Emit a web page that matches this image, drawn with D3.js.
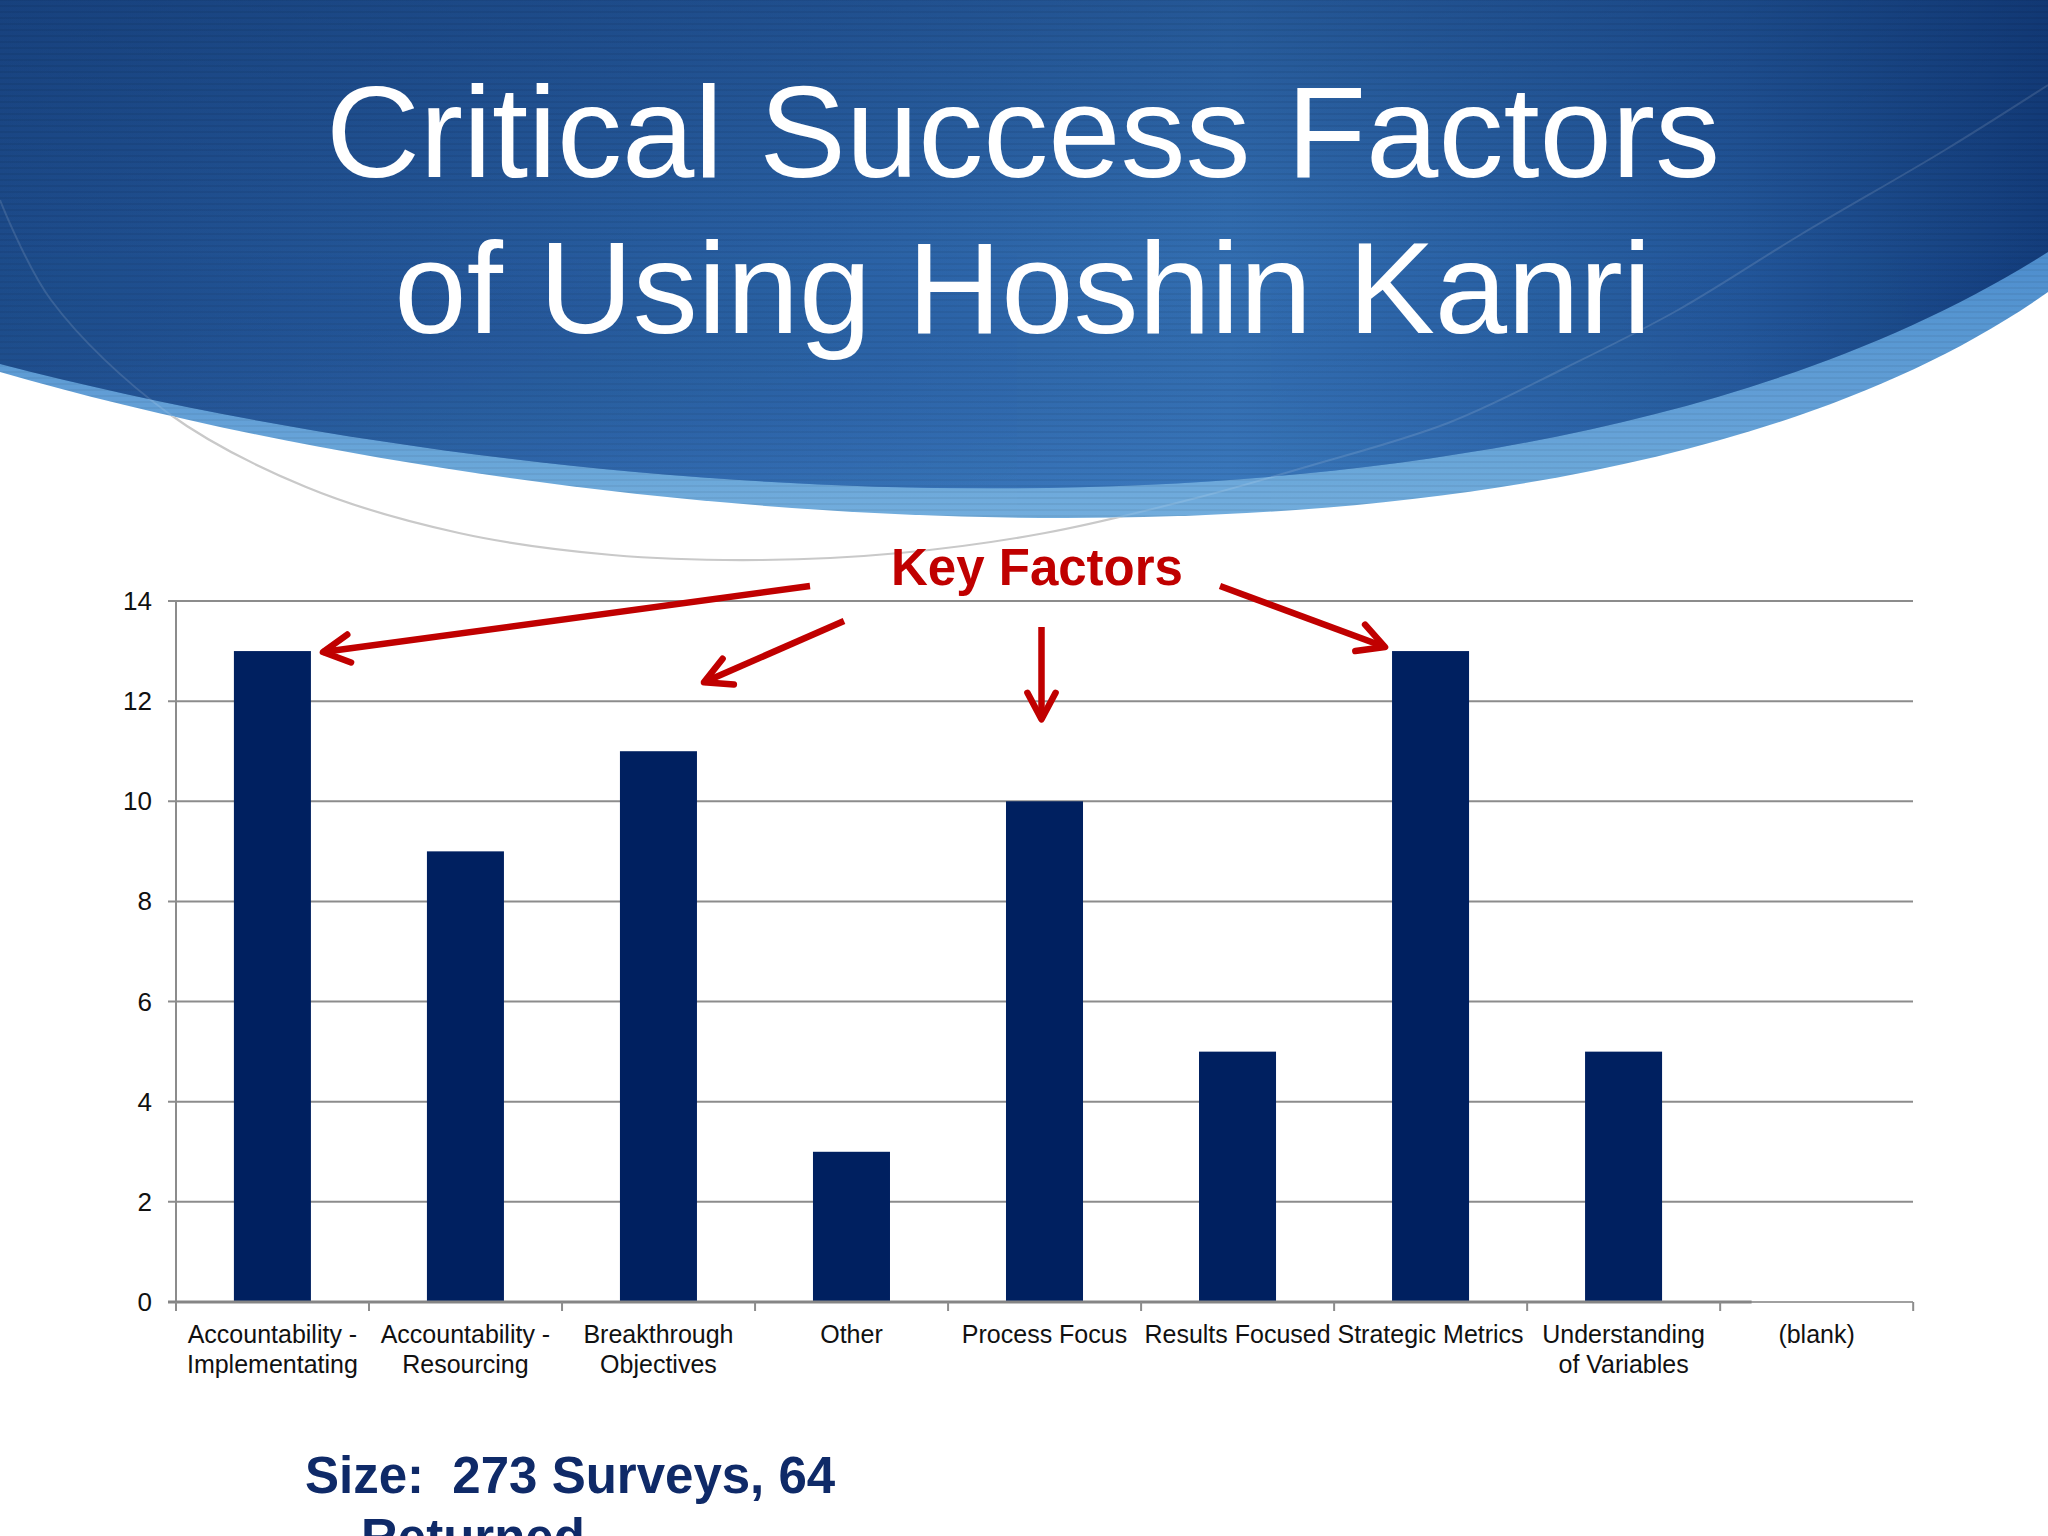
<!DOCTYPE html>
<html>
<head>
<meta charset="utf-8">
<script src="https://cdn.jsdelivr.net/npm/d3@7/dist/d3.min.js"></script>
<style>
  html, body { margin: 0; padding: 0; background: #ffffff; }
  svg { display: block; }
</style>
</head>
<body>
<svg id="chart" width="2048" height="1536"></svg>
<script>
// ---- Data ----
const categories = [
  "Accountability - Implementating",
  "Accountability - Resourcing",
  "Breakthrough Objectives",
  "Other",
  "Process Focus",
  "Results Focused",
  "Strategic Metrics",
  "Understanding of Variables",
  "(blank)"
];
const categoryLines = [
  ["Accountability -", "Implementating"],
  ["Accountability -", "Resourcing"],
  ["Breakthrough", "Objectives"],
  ["Other"],
  ["Process Focus"],
  ["Results Focused"],
  ["Strategic Metrics"],
  ["Understanding", "of Variables"],
  ["(blank)"]
];
const values = [13, 9, 11, 3, 10, 5, 13, 5, 0];
const yTicks = [0, 2, 4, 6, 8, 10, 12, 14];
const titleLines = ["Critical Success Factors", "of Using Hoshin Kanri"];
const keyFactorsLabel = "Key Factors";
const keyFactorTargets = ["Accountability - Implementating", "Breakthrough Objectives", "Process Focus", "Strategic Metrics"];
const footnoteLines = ["Size:\u00a0 273 Surveys, 64", "Returned"];

// ---- Setup ----
const svg = d3.select("#chart");
const W = 2048, H = 1536;
const defs = svg.append("defs");
const FONT = "'Liberation Sans', Arial, sans-serif";

// Header background (decorative)
const gH = defs.append("linearGradient").attr("id", "hdrH").attr("x1", "0").attr("x2", "1").attr("y1", "0").attr("y2", "0");
gH.append("stop").attr("offset", "0").attr("stop-color", "#1e4d8d");
gH.append("stop").attr("offset", "0.4").attr("stop-color", "#2c64a8");
gH.append("stop").attr("offset", "0.6").attr("stop-color", "#3572b6");
gH.append("stop").attr("offset", "0.85").attr("stop-color", "#24599d");
gH.append("stop").attr("offset", "1").attr("stop-color", "#143e7d");
const gV = defs.append("linearGradient").attr("id", "hdrV").attr("x1", "0").attr("x2", "0").attr("y1", "0").attr("y2", "1");
gV.append("stop").attr("offset", "0").attr("stop-color", "#0d2f66").attr("stop-opacity", 0.4);
gV.append("stop").attr("offset", "0.55").attr("stop-color", "#0d2f66").attr("stop-opacity", 0.05);
gV.append("stop").attr("offset", "1").attr("stop-color", "#4a8ad0").attr("stop-opacity", 0.3);
const gBand = defs.append("linearGradient").attr("id", "band").attr("x1", "0").attr("x2", "0").attr("y1", "0.5").attr("y2", "1");
gBand.append("stop").attr("offset", "0").attr("stop-color", "#4f8fce");
gBand.append("stop").attr("offset", "1").attr("stop-color", "#72addd");

const outerPath = "M0,0 L2048,0 L2048,292 C1590,615 600,545 0,372 Z";
const innerPath = "M0,0 L2048,0 L2048,252 C1540,575 600,520 0,364 Z";
svg.append("path").attr("d", outerPath).attr("fill", "url(#band)");
svg.append("path").attr("d", innerPath).attr("fill", "url(#hdrH)");
svg.append("path").attr("d", innerPath).attr("fill", "url(#hdrV)");

defs.append("clipPath").attr("id", "hdrClip").append("path").attr("d", outerPath);
defs.append("clipPath").attr("id", "whiteClip").append("path")
  .attr("d", "M0,0 L0,1536 L2048,1536 L2048,292 C1590,615 600,545 0,372 Z");

// faint stripes inside header
const stripes = svg.append("g").attr("opacity", 0.05).attr("clip-path", "url(#hdrClip)");
d3.range(0, 520, 6).forEach(yy => {
  stripes.append("line").attr("x1", 0).attr("x2", W).attr("y1", yy).attr("y2", yy)
    .attr("stroke", "#000").attr("stroke-width", 2);
});

// thin arc (decorative)
const arcPts = [[0,200],[51,300],[168,413],[306,487],[459,533],[612,555],[760,560],[900,553],[1045,533],[1200,497],[1306,467],[1448,423],[1567,367],[1678,310],[1800,235],[1945,150],[2048,85]];
const curve = d3.line().curve(d3.curveCatmullRom.alpha(0.5));
svg.append("path").attr("d", curve(arcPts)).attr("fill", "none")
  .attr("stroke", "#ffffff").attr("stroke-width", 2).attr("opacity", 0.12)
  .attr("clip-path", "url(#hdrClip)");
svg.append("path").attr("d", curve(arcPts)).attr("fill", "none")
  .attr("stroke", "#c9c9c9").attr("stroke-width", 2.2)
  .attr("clip-path", "url(#whiteClip)");

// Title
svg.append("g").selectAll("text").data(titleLines).join("text")
  .attr("x", 1023)
  .attr("y", (d, i) => 177 + i * 156)
  .attr("text-anchor", "middle")
  .attr("font-family", FONT)
  .attr("font-size", 130)
  .attr("fill", "#ffffff")
  .text(d => d);

// ---- Chart ----
const x = d3.scaleBand().domain(categories).range([176, 1913]).paddingInner(0.601).paddingOuter(0.3);
const y = d3.scaleLinear().domain([0, 14]).range([1302, 601]);
const step = x.step();

// gridlines
svg.append("g").selectAll("line").data(yTicks.filter(t => t > 0)).join("line")
  .attr("x1", 168).attr("x2", 1913)
  .attr("y1", d => y(d)).attr("y2", d => y(d))
  .attr("stroke", "#8c8c8c").attr("stroke-width", 2);

// y axis line
svg.append("line").attr("x1", 176).attr("x2", 176).attr("y1", y(14)).attr("y2", y(0))
  .attr("stroke", "#8c8c8c").attr("stroke-width", 2);

// y tick labels
svg.append("g").selectAll("text").data(yTicks).join("text")
  .attr("x", 152).attr("y", d => y(d) + 9)
  .attr("text-anchor", "end")
  .attr("font-family", FONT).attr("font-size", 26).attr("fill", "#111")
  .text(d => d);

// bars
svg.append("g").selectAll("rect").data(values).join("rect")
  .attr("x", (d, i) => x(categories[i]))
  .attr("y", d => y(d))
  .attr("width", x.bandwidth())
  .attr("height", d => y(0) - y(d))
  .attr("fill", "#002060");

// x axis baseline
svg.append("line").attr("x1", 168).attr("x2", 1913).attr("y1", y(0)).attr("y2", y(0))
  .attr("stroke", "#a0a0a0").attr("stroke-width", 2);
svg.append("line").attr("x1", 168).attr("x2", x(categories[8]) + x.bandwidth() / 2 - 65).attr("y1", y(0)).attr("y2", y(0))
  .attr("stroke", "#858585").attr("stroke-width", 3);

// category tick marks at band boundaries
const boundaries = d3.range(categories.length + 1).map(i => 176 + i * step);
svg.append("g").selectAll("line").data(boundaries).join("line")
  .attr("x1", d => d).attr("x2", d => d)
  .attr("y1", y(0)).attr("y2", y(0) + 9)
  .attr("stroke", "#8c8c8c").attr("stroke-width", 2);

// category labels
const catG = svg.append("g").selectAll("text").data(categories).join("text")
  .attr("text-anchor", "middle")
  .attr("font-family", FONT).attr("font-size", 25).attr("fill", "#111")
  .attr("transform", d => `translate(${x(d) + x.bandwidth() / 2},${y(0) + 41})`);
catG.selectAll("tspan").data((d, i) => categoryLines[i]).join("tspan")
  .attr("x", 0).attr("dy", (d, i) => i === 0 ? 0 : 30)
  .text(d => d);

// ---- Key Factors annotation ----
svg.append("text")
  .attr("x", 1037).attr("y", 585)
  .attr("text-anchor", "middle")
  .attr("font-family", FONT).attr("font-weight", "bold")
  .attr("font-size", 51).attr("fill", "#c00000")
  .text(keyFactorsLabel);

// arrows: start near the label, tips anchored to bars through the scales
const v = c => values[categories.indexOf(c)];
const arrows = [
  { from: [810, 586], to: [x(keyFactorTargets[0]) + x.bandwidth() + 12, y(v(keyFactorTargets[0])) + 1] },
  { from: [844, 621], to: [x(keyFactorTargets[1]) + x.bandwidth() + 7, y(v(keyFactorTargets[1])) - 69] },
  { from: [x(keyFactorTargets[2]) + x.bandwidth() / 2 - 3, 627], to: [x(keyFactorTargets[2]) + x.bandwidth() / 2 - 3, y(v(keyFactorTargets[2])) - 82] },
  { from: [1220, 586], to: [x(keyFactorTargets[3]) - 7, y(v(keyFactorTargets[3])) - 4] }
];
const ag = svg.append("g").attr("stroke", "#c00000").attr("fill", "none")
  .attr("stroke-width", 6.5).attr("stroke-linecap", "round").attr("stroke-linejoin", "round");
arrows.forEach(a => {
  const [x1, y1] = a.from, [x2, y2] = a.to;
  ag.append("line").attr("x1", x1).attr("y1", y1).attr("x2", x2).attr("y2", y2).attr("stroke-linecap", "butt");
  const ang = Math.atan2(y1 - y2, x1 - x2);
  const L = 30, da = 28 * Math.PI / 180;
  const w1 = [x2 + L * Math.cos(ang + da), y2 + L * Math.sin(ang + da)];
  const w2 = [x2 + L * Math.cos(ang - da), y2 + L * Math.sin(ang - da)];
  ag.append("path").attr("d", `M${w1} L${x2},${y2} L${w2}`);
});

// ---- Footnote ----
svg.append("g").selectAll("text").data(footnoteLines).join("text")
  .attr("x", (d, i) => i === 0 ? 305 : 361)
  .attr("y", (d, i) => 1493 + i * 62)
  .attr("font-family", FONT).attr("font-weight", "bold")
  .attr("font-size", 51).attr("fill", "#0f2a68")
  .text(d => d);
</script>
</body>
</html>
